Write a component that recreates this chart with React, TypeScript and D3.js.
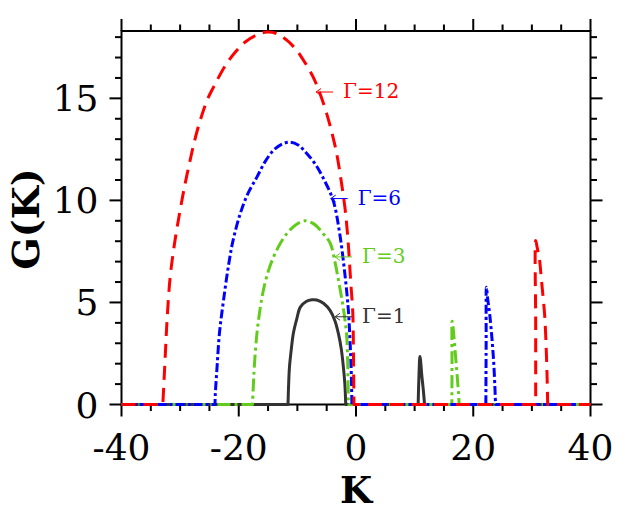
import React from "react";
import * as d3 from "d3";

const W = 644;
const H = 520;

// ---- data ----
const xDomain: [number, number] = [-40, 40];
const yDomain: [number, number] = [0, 18.3];
const xMajor = [-40, -20, 0, 20, 40];
const yMajor = [0, 5, 10, 15];

// Γ=1 (black solid)
const hump1: [number, number][] = [
  [-11.6, 0], [-11.5, 0.9], [-11.35, 1.83], [-11.0, 2.8], [-10.7, 3.47], [-10.1, 4.2],
  [-9.5, 4.77], [-8.5, 5.05], [-7.5, 5.13], [-6.7, 5.12], [-5.5, 4.95], [-4.4, 4.6],
  [-3.6, 4.1], [-3.0, 3.47], [-2.5, 2.7], [-2.15, 1.83], [-1.9, 1.0], [-1.75, 0],
];
const spike1: [number, number][] = [
  [10.6, 0], [10.75, 1.5], [10.9, 2.35], [11.0, 2.2], [11.2, 1.5], [11.45, 0.8], [11.7, 0],
];
// Γ=3 (green dash-dot)
const hump3: [number, number][] = [
  [-17.65, 0], [-17.5, 1.0], [-17.35, 1.83], [-16.9, 3.47], [-16.3, 4.8], [-15.8, 5.6],
  [-15.0, 6.5], [-14.1, 7.2], [-13.0, 7.85], [-11.8, 8.37], [-10.3, 8.8], [-8.7, 9.0],
  [-7.2, 8.85], [-5.6, 8.37], [-4.4, 7.9], [-3.6, 7.0], [-3.0, 6.1], [-2.5, 5.3],
  [-2.05, 4.5], [-1.6, 3.4], [-1.4, 1.8], [-1.3, 0],
];
const spike3: [number, number][] = [
  [16.35, 0], [16.38, 2.0], [16.4, 4.08], [16.55, 3.8], [16.85, 2.81], [17.2, 1.6],
  [17.5, 0.5], [17.6, 0],
];
// Γ=6 (blue dash-dot)
const hump6: [number, number][] = [
  [-24.05, 0], [-24.0, 0.5], [-23.7, 1.83], [-23.3, 3.47], [-22.6, 5.1], [-21.7, 6.9],
  [-21.0, 8.0], [-19.8, 9.3], [-18.5, 10.3], [-16.9, 11.14], [-15.5, 11.9], [-14.1, 12.45],
  [-12.7, 12.75], [-11.2, 12.85], [-9.8, 12.7], [-8.4, 12.3], [-7.0, 11.8], [-5.6, 11.1],
  [-3.9, 10.0], [-2.85, 8.5], [-1.9, 6.4], [-1.3, 4.6], [-1.0, 3.0], [-0.8, 1.5], [-0.7, 0],
];
const spike6: [number, number][] = [
  [22.15, 0], [22.2, 3.0], [22.25, 5.75], [22.45, 5.2], [22.8, 4.44], [23.2, 3.2],
  [23.5, 2.0], [23.7, 0.8], [23.8, 0],
];
// Γ=12 (red dashed)
const hump12: [number, number][] = [
  [-32.95, 0], [-32.8, 0.85], [-32.5, 2.6], [-32.2, 4.28], [-31.7, 6.24], [-31.1, 7.6],
  [-30.5, 8.7], [-29.7, 10.0], [-28.8, 11.3], [-27.1, 13.4], [-25.4, 14.9], [-24.3, 15.55],
  [-22.3, 16.6], [-20.5, 17.3], [-18.9, 17.76], [-17.0, 18.1], [-15.2, 18.25], [-13.5, 18.17],
  [-11.8, 17.85], [-10.1, 17.35], [-8.7, 16.75], [-7.3, 16.04], [-6.1, 15.2], [-5.0, 14.25],
  [-4.1, 13.3], [-3.3, 12.3], [-2.5, 10.9], [-1.9, 9.67], [-1.4, 8.2], [-0.9, 6.0],
  [-0.55, 4.5], [-0.45, 3.0], [-0.4, 1.5], [-0.35, 0],
];
const spike12: [number, number][] = [
  [30.65, 0], [30.65, 4.0], [30.65, 8.04], [30.9, 7.7], [31.3, 7.1], [31.6, 6.2],
  [31.9, 5.3], [32.2, 4.3], [32.45, 2.7], [32.6, 1.3], [32.7, 0],
];

const seriesNames = ["Γ=1", "Γ=3", "Γ=6", "Γ=12"];
const seriesColors = ["#333333", "#62cc1c", "#0000ff", "#ff0000"];
const seriesDash = ["none", "13,4,3,4", "9,3,3,3", "14,8"];
const seriesHumps = [hump1, hump3, hump6, hump12];
const seriesSpikes = [spike1, spike3, spike6, spike12];
// label arrow tips (data coords)
const labelTips: [number, number][] = [[-3.57, 4.3], [-3.57, 7.23], [-4.31, 10.09], [-6.81, 15.31]];

export default function App() {
  const x = d3.scaleLinear().domain(xDomain).range([121.5, 590.5]);
  const y = d3.scaleLinear().domain(yDomain).range([404.5, 31]);
  const [x0, x1] = x.range();
  const [yb, yt] = y.range();

  const curve = d3
    .line<[number, number]>()
    .x((d) => x(d[0]))
    .y((d) => y(d[1]))
    .curve(d3.curveCatmullRom.alpha(0.5));

  const buildPath = (hump: [number, number][], spike: [number, number][]) => {
    const a = curve(hump) || "";
    const b = curve(spike) || "";
    return (
      `M${x(xDomain[0])},${y(0)}` +
      a.replace(/^M/, "L") +
      b.replace(/^M/, "L") +
      `L${x(xDomain[1])},${y(0)}`
    );
  };

  const xMinor = d3.range(-40, 40.01, 5).filter((v) => !xMajor.includes(v));
  const yMinor = d3.range(0, 18.01, 1).filter((v) => !yMajor.includes(v));
  const MAJ = 12;
  const MIN = 6.5;
  const font = "'DejaVu Serif', serif";

  return (
    <svg
      width={W}
      height={H}
      style={{ position: "absolute", left: 0, top: 0, background: "#fff" }}
    >
      {/* frame */}
      <rect x={x0} y={yt} width={x1 - x0} height={yb - yt} fill="none" stroke="#000" strokeWidth={2} />
      {/* x ticks bottom & top */}
      {xMajor.map((v) => (
        <g key={"xm" + v}>
          <line x1={x(v)} x2={x(v)} y1={yb} y2={yb + MAJ} stroke="#000" strokeWidth={2} />
          <line x1={x(v)} x2={x(v)} y1={yt} y2={yt - MAJ} stroke="#000" strokeWidth={2} />
        </g>
      ))}
      {xMinor.map((v) => (
        <g key={"xn" + v}>
          <line x1={x(v)} x2={x(v)} y1={yb} y2={yb + MIN} stroke="#000" strokeWidth={2} />
          <line x1={x(v)} x2={x(v)} y1={yt} y2={yt - MIN} stroke="#000" strokeWidth={2} />
        </g>
      ))}
      {/* y ticks left & right */}
      {yMajor.map((v) => (
        <g key={"ym" + v}>
          <line x1={x0} x2={x0 - MAJ} y1={y(v)} y2={y(v)} stroke="#000" strokeWidth={2} />
          <line x1={x1} x2={x1 + MAJ} y1={y(v)} y2={y(v)} stroke="#000" strokeWidth={2} />
        </g>
      ))}
      {yMinor.map((v) => (
        <g key={"yn" + v}>
          <line x1={x0} x2={x0 - MIN} y1={y(v)} y2={y(v)} stroke="#000" strokeWidth={2} />
          <line x1={x1} x2={x1 + MIN} y1={y(v)} y2={y(v)} stroke="#000" strokeWidth={2} />
        </g>
      ))}
      {/* tick labels */}
      {xMajor.map((v) => (
        <text key={"xl" + v} x={x(v)} y={460} textAnchor="middle" fontFamily={font} fontSize={36} fill="#000">
          {String(v)}
        </text>
      ))}
      {yMajor.map((v) => (
        <text key={"yl" + v} x={98.5} y={y(v) + 13} textAnchor="end" fontFamily={font} fontSize={36} fill="#000">
          {String(v)}
        </text>
      ))}
      {/* axis titles */}
      <text x={(x0 + x1) / 2} y={503} textAnchor="middle" fontFamily={font} fontWeight="bold" fontSize={37} fill="#000">
        K
      </text>
      <text
        transform={`translate(39,219) rotate(-90)`}
        textAnchor="middle"
        fontFamily={font}
        fontWeight="bold"
        fontSize={38}
        fill="#000"
      >
        G(K)
      </text>
      {/* curves */}
      {seriesNames.map((n, i) => (
        <path
          key={n}
          d={buildPath(seriesHumps[i], seriesSpikes[i])}
          fill="none"
          stroke={seriesColors[i]}
          strokeWidth={3}
          strokeDasharray={seriesDash[i]}
          strokeLinejoin="round"
        />
      ))}
      {/* labels */}
      {seriesNames.map((n, i) => {
        const tx = x(labelTips[i][0]);
        const ty = y(labelTips[i][1]);
        return (
          <g key={"lab" + n}>
            <path
              d={`M${tx + 17},${ty}L${tx},${ty}M${tx + 5},${ty - 3.5}L${tx},${ty}L${tx + 5},${ty + 3.5}`}
              fill="none"
              stroke={seriesColors[i]}
              strokeWidth={1}
            />
            <text x={tx + 27} y={ty + 6} fontFamily={font} fontSize={20} fill={seriesColors[i]}>
              {n}
            </text>
          </g>
        );
      })}
    </svg>
  );
}
